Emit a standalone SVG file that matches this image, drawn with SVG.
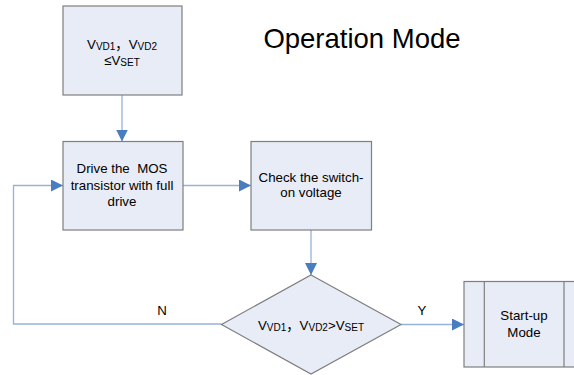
<svg xmlns="http://www.w3.org/2000/svg" width="574" height="375" viewBox="0 0 574 375">
<defs>
<style>
.box{fill:#E7ECF6;stroke:#7F7F7F;stroke-width:1.2}
.ln{fill:none;stroke:#97B2D9;stroke-width:1.3}
.t{font-family:"Liberation Sans","Noto Sans CJK SC",Arial,sans-serif;font-size:13.3px;fill:#000;text-anchor:middle}
.s{font-size:10px}
</style>
<marker id="ah" markerWidth="12" markerHeight="12" viewBox="0 0 12 12" refX="12" refY="6" orient="auto" markerUnits="userSpaceOnUse">
<path d="M0,0 L12,6 L0,12 Z" fill="#4A7CC0"/>
</marker>
</defs>
<rect width="574" height="375" fill="#fff"/>
<text x="362" y="48" font-family="Liberation Sans,Arial,sans-serif" font-size="27.5" text-anchor="middle">Operation Mode</text>
<g id="connectors">
<path class="ln" d="M122,95 V141.5" marker-end="url(#ah)"/>
<path class="ln" d="M183,185.5 H251" marker-end="url(#ah)"/>
<path class="ln" d="M311,230 V275" marker-end="url(#ah)"/>
<path class="ln" d="M221.5,324 H13.5 V185.5 H63" marker-end="url(#ah)"/>
<path class="ln" d="M401,324.5 H464" marker-end="url(#ah)"/>
<text class="t" x="162" y="315">N</text>
<text class="t" x="422" y="315">Y</text>
</g>
<g id="n1">
<rect class="box" x="63" y="6" width="119" height="89"/>
<text class="t" x="122" y="49">V<tspan class="s" dy="1">VD1</tspan><tspan dy="-1">，V</tspan><tspan class="s" dy="1">VD2</tspan></text>
<text class="t" x="122" y="65">≤V<tspan class="s" dy="1">SET</tspan></text>
</g>
<g id="n2">
<rect class="box" x="63" y="141.5" width="120" height="88.5"/>
<text class="t" x="122" y="173" xml:space="preserve">Drive the  MOS</text>
<text class="t" x="122" y="190">transistor with full</text>
<text class="t" x="122" y="206">drive</text>
</g>
<g id="n3">
<rect class="box" x="251" y="141.5" width="120.5" height="88.5"/>
<text class="t" x="311" y="181.5">Check the switch-</text>
<text class="t" x="311" y="197">on voltage</text>
</g>
<g id="n4">
<polygon class="box" points="311,275 401,324.5 311,374 221.5,324.5"/>
<text class="t" x="311" y="330">V<tspan class="s" dy="1">VD1</tspan><tspan dy="-1">，V</tspan><tspan class="s" dy="1">VD2</tspan><tspan dy="-1">&gt;V</tspan><tspan class="s" dy="1">SET</tspan></text>
</g>
<g id="n5">
<rect class="box" x="464" y="281.5" width="120" height="85.5"/>
<line class="box" x1="484.3" y1="281.5" x2="484.3" y2="367"/>
<line class="box" x1="564" y1="281.5" x2="564" y2="367"/>
<text class="t" x="524" y="320">Start-up</text>
<text class="t" x="524" y="337">Mode</text>
</g>
</svg>
